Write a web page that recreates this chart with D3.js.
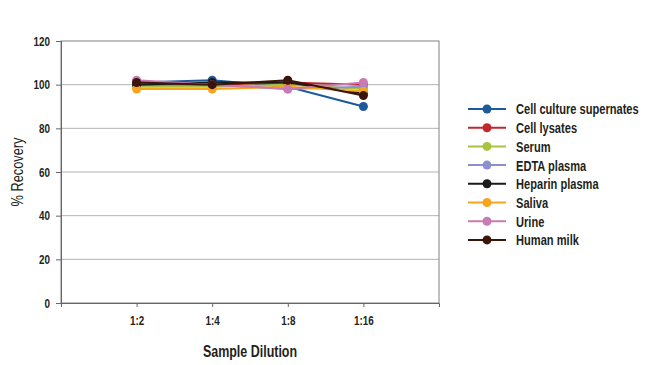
<!DOCTYPE html>
<html>
<head>
<meta charset="utf-8">
<script src="https://cdn.jsdelivr.net/npm/d3@7"></script>
<style>
  body { margin: 0; background: #fff; }
  svg text { font-family: "Liberation Sans", Arial, sans-serif; fill: #231f20; }
</style>
</head>
<body>
<div id="chart"></div>
<script>
// Chart data
let dilutions = ["1:2", "1:4", "1:8", "1:16"];
let seriesNames = ["Cell culture supernates", "Cell lysates", "Serum", "EDTA plasma",
                   "Heparin plasma", "Saliva", "Urine", "Human milk"];
let seriesColors = ["#1d5a9b", "#c1272d", "#a9c23f", "#8b8fd0",
                    "#1a1a1a", "#f7a51e", "#c97bb4", "#3b1509"];
let cellCulture = [101, 102, 99, 90];
let cellLysates = [100, 100, 101, 100];
let serum = [99, 99, 100, 98];
let edtaPlasma = [100, 100, 98, 99];
let heparinPlasma = [100, 101, 101, 96];
let saliva = [98, 98, 99, 97];
let urine = [102, 100, 98, 101];
let humanMilk = [101, 100, 102, 95];
let yTicks = [0, 20, 40, 60, 80, 100, 120];

let seriesValues = [cellCulture, cellLysates, serum, edtaPlasma,
                    heparinPlasma, saliva, urine, humanMilk];

let margin = {top: 41, right: 211, bottom: 62, left: 61};
let width = 650 - margin.left - margin.right,
    height = 365 - margin.top - margin.bottom;

// the original uses a condensed face: squeeze text horizontally
let squeeze = 0.76;

let svg = d3.select("#chart").append("svg")
    .attr("width", 650)
    .attr("height", 365);

let g = svg.append("g")
    .attr("transform", "translate(" + margin.left + "," + margin.top + ")");

let x = d3.scalePoint()
    .domain(dilutions)
    .range([0, width])
    .padding(1);

let y = d3.scaleLinear()
    .domain([0, 120])
    .range([height, 0]);

// gridlines
g.selectAll(".grid")
    .data(yTicks.filter(d => d > 0 && d < 120))
    .enter().append("line")
    .attr("x1", 0).attr("x2", width)
    .attr("y1", d => y(d)).attr("y2", d => y(d))
    .attr("stroke", "#b3b3b3")
    .attr("stroke-width", 1);

// plot border
g.append("rect")
    .attr("x", 0).attr("y", 0)
    .attr("width", width).attr("height", height)
    .attr("fill", "none")
    .attr("stroke", "#808080")
    .attr("stroke-width", 1);

// y axis
let yAxis = g.append("g")
    .call(d3.axisLeft(y).tickValues(yTicks).tickSize(5).tickPadding(6));
yAxis.select(".domain").attr("stroke", "#666");
yAxis.selectAll(".tick line").attr("stroke", "#666");
yAxis.selectAll("text")
    .attr("x", -11 / squeeze)
    .attr("transform", "scale(" + squeeze + ",1)")
    .style("font-size", "13px").style("font-weight", "bold").attr("fill", "#231f20");

// x axis
let xAxis = g.append("g")
    .attr("transform", "translate(0," + height + ")")
    .call(d3.axisBottom(x).tickSize(4).tickPadding(9));
xAxis.select(".domain").attr("stroke", "#666");
xAxis.selectAll(".tick line").attr("stroke", "#666");
xAxis.selectAll("text")
    .attr("transform", "scale(" + squeeze + ",1)")
    .style("font-size", "13px").style("font-weight", "bold").attr("fill", "#231f20");

// axis titles
svg.append("g")
    .attr("transform", "translate(23," + (margin.top + height / 2) + ") rotate(-90) scale(0.8,1)")
    .append("text")
    .attr("text-anchor", "middle")
    .style("font-size", "16px")
    .text("% Recovery");

svg.append("g")
    .attr("transform", "translate(" + (margin.left + width / 2) + ",357) scale(0.78,1)")
    .append("text")
    .attr("text-anchor", "middle")
    .style("font-size", "16px")
    .style("font-weight", "bold")
    .text("Sample Dilution");

// series lines and markers
let line = d3.line()
    .x((d, i) => x(dilutions[i]))
    .y(d => y(d));

seriesValues.forEach((vals, s) => {
    let sg = g.append("g");
    sg.append("path")
        .datum(vals)
        .attr("d", line)
        .attr("fill", "none")
        .attr("stroke", seriesColors[s])
        .attr("stroke-width", 2);
    sg.selectAll("circle")
        .data(vals)
        .enter().append("circle")
        .attr("cx", (d, i) => x(dilutions[i]))
        .attr("cy", d => y(d))
        .attr("r", 4.5)
        .attr("fill", seriesColors[s]);
});

// legend
let legend = svg.append("g")
    .attr("transform", "translate(468,109)");

let rows = legend.selectAll("g")
    .data(seriesNames)
    .enter().append("g")
    .attr("transform", (d, i) => "translate(0," + (i * 18.7) + ")");

rows.append("line")
    .attr("x1", 0).attr("x2", 38)
    .attr("stroke", (d, i) => seriesColors[i])
    .attr("stroke-width", 2);

rows.append("circle")
    .attr("cx", 19).attr("cy", 0).attr("r", 4.5)
    .attr("fill", (d, i) => seriesColors[i]);

rows.append("g")
    .attr("transform", "translate(48,0) scale(0.74,1)")
    .append("text")
    .attr("dy", "0.36em")
    .style("font-size", "15px")
    .style("font-weight", "bold")
    .text(d => d);
</script>
</body>
</html>
